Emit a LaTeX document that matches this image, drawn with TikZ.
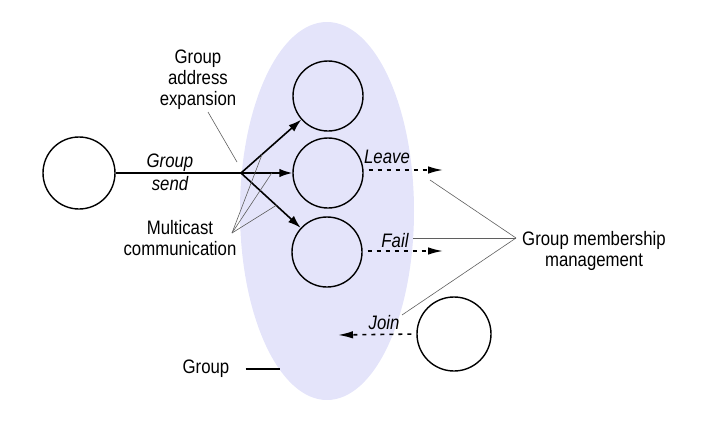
\documentclass[tikz,border=0pt]{standalone}
\usepackage{fontspec}
\setmainfont{Liberation Sans}[FakeStretch=0.86]
\usetikzlibrary{arrows.meta}
\definecolor{groupblue}{RGB}{228,228,250}
\definecolor{noteline}{RGB}{95,95,95}
\begin{document}
\begin{tikzpicture}[x=1pt, y=-1pt,
		proc/.style={circle,draw,line width=1.4pt,minimum size=70pt,inner sep=0pt},
		txt/.style={font=\fontsize{19.5}{21}\selectfont,align=center,inner sep=0pt},
		itxt/.style={txt,font=\fontsize{19.5}{23}\selectfont\itshape},
		send/.style={line width=1.6pt,-{Latex[length=13pt,width=8.5pt]}},
		msg/.style={line width=1.6pt,dash pattern=on 4pt off 5pt,dash phase=-5pt,-{Latex[length=15pt,width=7.5pt]}},
		note/.style={noteline,line width=0.6pt}
		]
	\useasboundingbox (0,0) rectangle (724,442);
	\fill[groupblue] (327,211) ellipse [x radius=87pt, y radius=189pt];
	\node [proc,minimum size=72pt] (sender) at (79,173) {};
	\node [proc] (m1) at (328,96) {};
	\node [proc] (m2) at (328,173) {};
	\node [proc] (m3) at (327,252) {};
	\node [proc,minimum size=74pt] (joiner) at (454,334) {};
	\coordinate (split) at (241,173);
	\draw [line width=1.6pt] (sender) -- (split);
	\draw [send] (split) -- coordinate[pos=0.35] (mc1) (m1);
	\draw [send] (split) -- coordinate[pos=0.6] (mc2) (m2);
	\draw [send] (split) -- coordinate[pos=0.59] (mc3) (m3);
	\coordinate (leaveend) at (443,170);
	\coordinate (failend) at (443,251);
	\coordinate (joinend) at (338,335);
	\draw [msg] ([yshift=3pt]m2.east) -- (leaveend);
	\draw [msg] ([yshift=1pt]m3.east) -- (failend);
	\draw [msg] (joiner.west) -- (joinend);
	\node [itxt] (sendlbl) at (170,172) {Group\\send};
	\node [itxt] (leavelbl) at (387,157) {Leave};
	\node [itxt] (faillbl) at (395,241) {Fail};
	\node [itxt] (joinlbl) at (384,323) {Join};
	\node [txt] (expand) at (198,80) {Group\\address\\expansion};
	\node [txt] (multi) at (180,238) {Multicast\\communication};
	\node [txt] (member) at (594,251) {Group membership\\management};
	\node [txt] (grouplbl) at (206,369) {Group};
	\coordinate (expandpt) at (237,162);
	\coordinate (multifoot) at (232,233);
	\coordinate (memberfoot) at (516,238);
	\coordinate (leavept) at (430,180);
	\coordinate (failpt) at (413,238);
	\coordinate (joinpt) at (402,315);
	\coordinate (grouptick) at (280,369);
	\draw [note] ([xshift=10pt,yshift=-2pt]expand.south) -- (expandpt);
	\draw [note] (multifoot) -- (mc1);
	\draw [note] (multifoot) -- (mc2);
	\draw [note] (multifoot) -- (mc3);
	\draw [note] (memberfoot) -- (leavept);
	\draw [note] (memberfoot) -- (failpt);
	\draw [note] (memberfoot) -- (joinpt);
	\draw [line width=1.6pt] ([xshift=16pt]grouplbl.east) -- (grouptick);
\end{tikzpicture}
\end{document}
